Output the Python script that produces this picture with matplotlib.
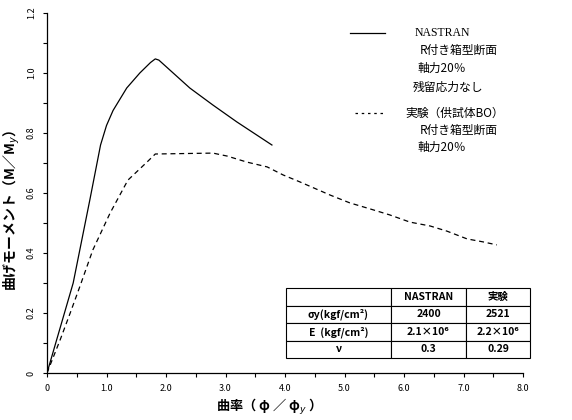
import matplotlib
matplotlib.use("Agg")
import matplotlib.pyplot as plt
import numpy as np

plt.rcParams['font.family'] = ['Noto Sans CJK JP', 'DejaVu Sans']

# NASTRAN (solid)
nastran_x = [0.0, 0.44, 0.72, 0.90, 1.00, 1.11, 1.34, 1.56, 1.74, 1.82, 1.88, 2.40, 2.79, 3.19, 3.78]
nastran_y = [0.0, 0.30, 0.577, 0.76, 0.825, 0.875, 0.95, 1.0, 1.035, 1.047, 1.043, 0.95, 0.893, 0.837, 0.76]

# Experiment (dashed)
exp_x = [0.0, 0.22, 0.39, 0.55, 0.77, 1.06, 1.36, 1.68, 1.82, 2.79, 3.03, 3.36, 3.70, 3.97,
         4.25, 4.76, 5.09, 5.43, 5.76, 6.10, 6.44, 6.72, 7.06, 7.33, 7.56]
exp_y = [0.0, 0.11, 0.20, 0.287, 0.41, 0.533, 0.643, 0.703, 0.73, 0.733, 0.723, 0.703, 0.687, 0.66,
         0.637, 0.593, 0.567, 0.547, 0.527, 0.503, 0.49, 0.473, 0.447, 0.437, 0.427]

x_ticks_major = [0, 1, 2, 3, 4, 5, 6, 7, 8]
x_tick_labels = ["0", "1.0", "2.0", "3.0", "4.0", "5.0", "6.0", "7.0", "8.0"]
y_ticks_major = [0, 0.2, 0.4, 0.6, 0.8, 1.0, 1.2]
y_tick_labels = ["0", "0.2", "0.4", "0.6", "0.8", "1.0", "1.2"]

legend_lines = ["NASTRAN", "R付き箱型断面", "軸力20％", "残留応力なし",
                "実験（供試体BO）", "R付き箱型断面", "軸力20％"]

table_cols = ["", "NASTRAN", "実験"]
table_rows = [["σy(kgf/cm²)", "2400", "2521"],
              ["E  (kgf/cm²)", "2.1×10⁶", "2.2×10⁶"],
              ["ν", "0.3", "0.29"]]

fig = plt.figure(figsize=(5.72, 4.2), dpi=100)
ax = fig.add_axes([47/572, 47/420, 476/572, 360/420])

ax.plot(nastran_x, nastran_y, color='black', lw=0.9)
ax.plot(exp_x, exp_y, color='black', lw=0.9, linestyle=(0, (4, 3)))

ax.set_xlim(0, 8)
ax.set_ylim(0, 1.2)
ax.set_xticks(x_ticks_major)
ax.set_xticklabels(x_tick_labels, fontsize=6.5)
ax.set_xticks(np.arange(0, 8.01, 0.5), minor=True)
ax.set_yticks(y_ticks_major)
ax.set_yticklabels(y_tick_labels, fontsize=6.5, rotation=90, va='center')
ax.set_yticks(np.arange(0, 1.21, 0.1), minor=True)
ax.tick_params(which='both', direction='out', length=3, width=0.8, pad=5)
for s in ['top', 'right']:
    ax.spines[s].set_visible(False)
for s in ['left', 'bottom']:
    ax.spines[s].set_linewidth(0.9)

# axis labels
fig.text(265/572, 1 - 407/420, "曲率（ φ ／ φ$_{y}$ ）", ha='center', va='center', fontsize=9.5,
         fontweight='bold')
fig.text(12/572, 1 - 210/420, "曲げモーメント（M／M$_{y}$）", ha='center', va='center',
         rotation=90, fontsize=10, fontweight='bold')

def fx(px):
    return px / 572
def fy(py):
    return 1 - py / 420

fig.add_artist(plt.Line2D([fx(350), fx(385)], [fy(33), fy(33)], color='black', lw=0.9))
fig.add_artist(plt.Line2D([fx(355), fx(383)], [fy(113), fy(113)], color='black', lw=0.9,
                          linestyle=(0, (2, 3))))
leg_pos = [(415, 33), (420, 50), (418, 68), (413, 87), (405, 113), (420, 130), (418, 147)]
for i, (txt, (px, py)) in enumerate(zip(legend_lines, leg_pos)):
    if i == 0:
        fig.text(fx(px), fy(py), txt, ha='left', va='center', fontsize=8.5,
                 family=['Liberation Serif'])
    else:
        fig.text(fx(px), fy(py), txt, ha='left', va='center', fontsize=8.5)

# table
x0, x1 = (286 - 47) / 476, (530 - 47) / 476
y0, y1 = (373 - 358) / 360, (373 - 288) / 360
tbl = ax.table(cellText=table_rows, colLabels=table_cols, cellLoc='center',
               colWidths=[105, 75, 64], bbox=[x0, y0, x1 - x0, y1 - y0])
tbl.auto_set_font_size(False)
tbl.set_fontsize(7.5)
for (r, c), cell in tbl.get_celld().items():
    cell.set_linewidth(0.8)
    cell.set_facecolor('white')
    cell.set_edgecolor('black')
    cell.get_text().set_fontweight('bold')
tbl.set_clip_on(False)

fig.savefig("out.png", dpi=100)
